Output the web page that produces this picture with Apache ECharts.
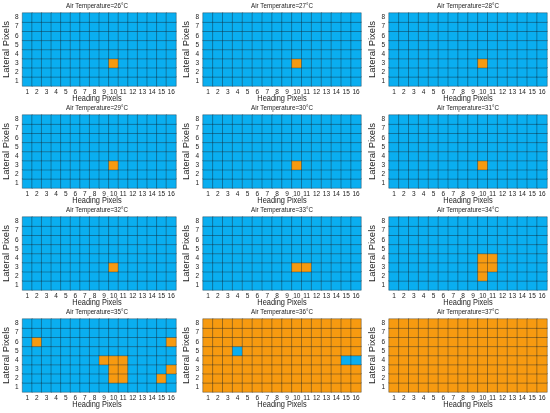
<!DOCTYPE html>
<html>
<head>
<meta charset="utf-8">
<script src="https://cdn.jsdelivr.net/npm/echarts@6/dist/echarts.min.js"></script>
<style>
html, body { margin: 0; padding: 0; background: #fff; }
#main { width: 550px; height: 413px; }
</style>
</head>
<body>
<div id="main"></div>
<script>
// heading pixels (x) and lateral pixels (y)
var headingPixels = ['1','2','3','4','5','6','7','8','9','10','11','12','13','14','15','16'];
var lateralPixels = ['1','2','3','4','5','6','7','8'];
var airTemps = [26, 27, 28, 29, 30, 31, 32, 33, 34, 35, 36, 37];
// state of most cells in each panel: 0 = blue, 1 = orange
var baseState = [0, 0, 0, 0, 0, 0, 0, 0, 0, 0, 1, 1];
// cells [heading, lateral] that differ from the base state
var flipCells = [
    [[10, 3]],
    [[10, 3]],
    [[10, 3]],
    [[10, 3]],
    [[10, 3]],
    [[10, 3]],
    [[10, 3]],
    [[10, 3], [11, 3]],
    [[10, 2], [10, 3], [10, 4], [11, 3], [11, 4]],
    [[2, 6], [16, 6], [9, 4], [10, 4], [11, 4], [10, 3], [11, 3], [16, 3], [10, 2], [11, 2], [15, 2]],
    [[4, 5], [15, 4], [16, 4]],
    []
];

var BLUE = '#0aaef0';
var ORANGE = '#f79a10';
var colLeft = [18, 203, 389];
var plotW = 158;
var rowTop = [13, 115, 217, 319];
var plotH = 73;
var FONT = 'Liberation Sans';
var SQUASH = 0.78; // the source picture is narrowed horizontally

function panelData(k) {
    var out = [];
    for (var x = 0; x < headingPixels.length; x++) {
        for (var y = 0; y < lateralPixels.length; y++) {
            var v = baseState[k];
            flipCells[k].forEach(function (c) {
                if (c[0] === x + 1 && c[1] === y + 1) v = 1 - v;
            });
            out.push([x, y, v]);
        }
    }
    return out;
}

function label(text, x, y, size) {
    return {
        type: 'text',
        x: x,
        y: y,
        scaleX: SQUASH,
        silent: true,
        style: {
            text: text,
            fill: '#222',
            fontSize: size,
            fontFamily: FONT,
            align: 'center',
            verticalAlign: 'middle'
        }
    };
}

var texts = [], grids = [], xAxes = [], yAxes = [], series = [];
airTemps.forEach(function (t, k) {
    var r = Math.floor(k / 3), c = k % 3;
    var cx = colLeft[c] + plotW / 2;
    texts.push(label('Air Temperature=' + t + '°C', cx, rowTop[r] - 7, 8));
    texts.push(label('Heading Pixels', cx, rowTop[r] + plotH + 12.5, 9.5));
    grids.push({ left: colLeft[c], top: rowTop[r], width: plotW, height: plotH });
    xAxes.push({
        type: 'category',
        gridIndex: k,
        data: headingPixels,
        axisLine: { show: false },
        axisTick: { show: false },
        axisLabel: { fontSize: 6.5, color: '#222', margin: 3, interval: 0, fontFamily: FONT },
        splitLine: { show: false }
    });
    yAxes.push({
        type: 'category',
        gridIndex: k,
        data: lateralPixels,
        name: 'Lateral Pixels',
        nameLocation: 'middle',
        nameGap: 10,
        nameTextStyle: { fontSize: 9.5, color: '#222', fontFamily: FONT },
        axisLine: { show: false },
        axisTick: { show: false },
        axisLabel: { fontSize: 6.5, color: '#222', margin: 4, interval: 0, fontFamily: FONT },
        splitLine: { show: false }
    });
    series.push({
        type: 'heatmap',
        xAxisIndex: k,
        yAxisIndex: k,
        data: panelData(k),
        itemStyle: { borderColor: 'rgba(20,30,40,0.6)', borderWidth: 0.6 },
        emphasis: { disabled: true },
        animation: false
    });
});

var chart = echarts.init(document.getElementById('main'));
chart.setOption({
    backgroundColor: '#fff',
    animation: false,
    graphic: texts,
    grid: grids,
    xAxis: xAxes,
    yAxis: yAxes,
    visualMap: {
        type: 'piecewise',
        show: false,
        dimension: 2,
        pieces: [
            { value: 0, color: BLUE },
            { value: 1, color: ORANGE }
        ]
    },
    series: series
});
</script>
</body>
</html>
